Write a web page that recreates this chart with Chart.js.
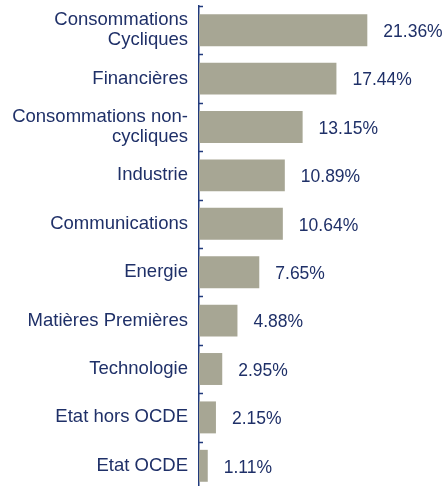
<!DOCTYPE html>
<html>
<head>
<meta charset="utf-8">
<script src="https://cdn.jsdelivr.net/npm/chart.js@4/dist/chart.umd.min.js"></script>
<style>
html,body{margin:0;padding:0;background:#fff;overflow:hidden;}
#wrap{position:relative;width:445px;height:490px;}
</style>
</head>
<body>
<div id="wrap"><canvas id="c"></canvas></div>
<script>
const categories = [
  ["Consommations", "Cycliques"],
  "Financières",
  ["Consommations non-", "cycliques"],
  "Industrie",
  "Communications",
  "Energie",
  "Matières Premières",
  "Technologie",
  "Etat hors OCDE",
  "Etat OCDE"
];
const weights = [21.36, 17.44, 13.15, 10.89, 10.64, 7.65, 4.88, 2.95, 2.15, 1.11];
const valueLabels = ["21.36%", "17.44%", "13.15%", "10.89%", "10.64%", "7.65%", "4.88%", "2.95%", "2.15%", "1.11%"];

const NAVY = '#1f3068';
const AXIS = '#213a7c';
const FONT = '"Liberation Sans", Arial, sans-serif';

const valuePlugin = {
  id: 'valueLabels',
  afterDatasetsDraw(chart) {
    const ctx = chart.ctx;
    const meta = chart.getDatasetMeta(0);
    ctx.save();
    ctx.font = '17.5px ' + FONT;
    ctx.fillStyle = NAVY;
    ctx.textAlign = 'left';
    ctx.textBaseline = 'middle';
    meta.data.forEach((bar, i) => {
      ctx.fillText(valueLabels[i], bar.x + 16, bar.y + 2);
    });
    ctx.restore();
  }
};

const tickPlugin = {
  id: 'innerTicks',
  afterDraw(chart) {
    const ys = chart.scales.y;
    const ctx = chart.ctx;
    const x0 = chart.chartArea.left;
    ctx.save();
    ctx.strokeStyle = AXIS;
    ctx.lineWidth = 1.5;
    for (let i = 0; i <= categories.length; i++) {
      const y = Math.round(ys.getPixelForValue(i - 0.5)) + 0.5;
      ctx.beginPath();
      ctx.moveTo(x0, y);
      ctx.lineTo(x0 + 4, y);
      ctx.stroke();
    }
    ctx.restore();
  }
};

new Chart(document.getElementById('c'), {
  type: 'bar',
  data: {
    labels: categories,
    datasets: [{
      data: weights,
      backgroundColor: '#a7a694',
      borderWidth: 0,
      barPercentage: 0.66,
      categoryPercentage: 1.0
    }]
  },
  options: {
    indexAxis: 'y',
    responsive: true,
    maintainAspectRatio: false,
    animation: false,
    layout: { padding: { top: 6, bottom: 0, left: 0, right: 49 } },
    plugins: { legend: { display: false }, tooltip: { enabled: false } },
    scales: {
      x: { display: false, min: 0, max: 25 },
      y: {
        offset: true,
        afterFit(s) { s.width = 199; s.paddingTop = 0; s.paddingBottom = 0; },
        grid: { display: true, drawOnChartArea: false, drawTicks: false },
        border: { display: true, color: AXIS, width: 1.5 },
        ticks: {
          padding: 11,
          color: NAVY,
          font: { family: FONT, size: 18.5, lineHeight: 1.08 }
        }
      }
    }
  },
  plugins: [valuePlugin, tickPlugin]
});
</script>
</body>
</html>
